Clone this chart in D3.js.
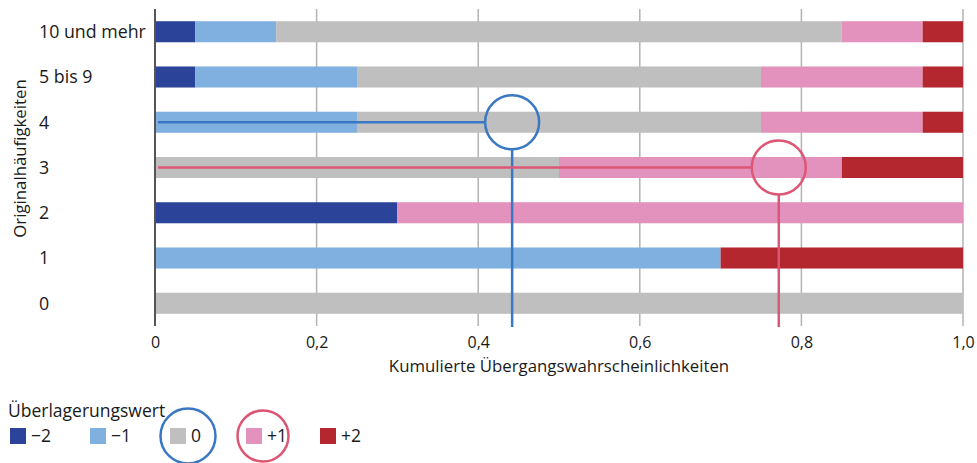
<!DOCTYPE html>
<html>
<head>
<meta charset="utf-8">
<script src="https://cdn.jsdelivr.net/npm/d3@7"></script>
<style>
body{margin:0;background:#fff}
text{font-family:"Open Sans","Noto Sans",sans-serif;fill:#1a1a1a}
</style>
</head>
<body>
<div id="chart"></div>
<script>
// categories (top to bottom) and the overlay values
let categories=["10 und mehr","5 bis 9","4","3","2","1","0"]
let overlays=["−2","−1","0","+1","+2"]
// transition probabilities per overlay value, one array per category
let pMinus2=[0.05,0.05,0,0,0.30,0,0]
let pMinus1=[0.10,0.20,0.25,0,0,0.70,0]
let pZero=[0.70,0.50,0.50,0.50,0,0,1.0]
let pPlus1=[0.10,0.20,0.20,0.35,0.70,0,0]
let pPlus2=[0.05,0.05,0.05,0.15,0,0.30,0]
let xTicks=[0,0.2,0.4,0.6,0.8,1.0]
// two example draws of a uniform number
let drawCats=["4","3"]
let drawValues=[0.442,0.772]

let colors=["#2b4499","#80b0df","#bfbfbf","#e392be","#b4272f"]
let drawColors=["#3a78c3","#dc5675"]

let svgWidth=977
let svgHeight=463
let margin={top:9,right:14,bottom:137,left:155}
let chartwidth=svgWidth-margin.left-margin.right
let chartheight=svgHeight-margin.top-margin.bottom

let svg=d3.select("#chart")
.append("svg")
.attr("width",svgWidth)
.attr("height",svgHeight)
let chartGroup=svg.append("g")
.attr("transform",`translate(${margin.left},${margin.top})`)

//Build stacked data
let series=[pMinus2,pMinus1,pZero,pPlus1,pPlus2]
let rows=categories.map((c,i)=>{
    let r={cat:c}
    overlays.forEach((o,j)=>r[o]=series[j][i])
    return r
})
let stacked=d3.stack().keys(overlays)(rows)

//Scales
let xLinearScale=d3.scaleLinear()
.domain([0,1])
.range([0,chartwidth])
let yBandScale=d3.scaleBand()
.domain(categories)
.range([0,chartheight])
.paddingInner(0.535)
.paddingOuter(0.27)

//Gridlines
chartGroup.append("g")
.selectAll("line")
.data(xTicks.slice(1))
.enter()
.append("line")
.attr("x1",d=>xLinearScale(d))
.attr("x2",d=>xLinearScale(d))
.attr("y1",0)
.attr("y2",chartheight)
.attr("stroke","#b3b3b3")
.attr("stroke-width",1.5)

//Bars
chartGroup.selectAll("g.layer")
.data(stacked)
.enter()
.append("g")
.attr("class","layer")
.attr("fill",(d,i)=>colors[i])
.selectAll("rect")
.data(d=>d)
.enter()
.append("rect")
.attr("x",d=>xLinearScale(d[0]))
.attr("y",d=>yBandScale(d.data.cat))
.attr("width",d=>xLinearScale(d[1])-xLinearScale(d[0]))
.attr("height",yBandScale.bandwidth())

//Left axis line
chartGroup.append("line")
.attr("x1",0).attr("x2",0)
.attr("y1",0).attr("y2",chartheight)
.attr("stroke","#555")
.attr("stroke-width",2)

//X axis tick labels
let bottomAxis=d3.axisBottom(xLinearScale)
.tickValues(xTicks)
.tickSize(0)
.tickPadding(11)
.tickFormat(d=>d3.format(".1f")(d).replace(".",",").replace(/^0,0$/,"0"))
let xg=chartGroup.append("g")
.attr("transform",`translate(0,${chartheight})`)
.call(bottomAxis)
xg.select(".domain").remove()
xg.selectAll("text").style("font-size","16px").attr("fill","#1a1a1a")

//Y labels
chartGroup.append("g")
.selectAll("text")
.data(categories)
.enter()
.append("text")
.attr("x",-116)
.attr("y",d=>yBandScale(d)+yBandScale.bandwidth()/2)
.attr("dy","0.36em")
.style("font-size","17.8px")
.text(d=>d)

//Axis titles
chartGroup.append("text")
.attr("transform","rotate(-90)")
.attr("x",-chartheight/2+9)
.attr("y",-129)
.attr("text-anchor","middle")
.style("font-size","16.8px")
.text("Originalhäufigkeiten")
chartGroup.append("text")
.attr("x",chartwidth/2)
.attr("y",chartheight+46)
.attr("text-anchor","middle")
.style("font-size","16.8px")
.text("Kumulierte Übergangswahrscheinlichkeiten")

//Draw annotations
let rCircle=27
drawValues.forEach((v,i)=>{
    let cx=xLinearScale(v)
    let cy=yBandScale(drawCats[i])+yBandScale.bandwidth()/2
    let g=chartGroup.append("g")
    .attr("stroke",drawColors[i])
    .attr("stroke-width",2.5)
    .attr("fill","none")
    g.append("line")
    .attr("x1",3).attr("x2",cx-rCircle)
    .attr("y1",cy).attr("y2",cy)
    g.append("circle")
    .attr("cx",cx).attr("cy",cy).attr("r",rCircle)
    g.append("line")
    .attr("x1",cx).attr("x2",cx)
    .attr("y1",cy+rCircle).attr("y2",chartheight+1)
})

//Legend
let legend=svg.append("g")
legend.append("text")
.attr("x",8)
.attr("y",417)
.style("font-size","17.5px")
.text("Überlagerungswert")
let legendX=[10,90,170,246,320]
let item=legend.selectAll("g.item")
.data(overlays)
.enter()
.append("g")
.attr("class","item")
.attr("transform",(d,i)=>`translate(${legendX[i]},428)`)
item.append("rect")
.attr("width",16)
.attr("height",16)
.attr("fill",(d,i)=>colors[i])
item.append("text")
.attr("x",21)
.attr("y",8)
.attr("dy","0.36em")
.style("font-size","17.5px")
.text(d=>d)
//circles around 0 and +1 in legend
legend.selectAll("circle")
.data([2,3])
.enter()
.append("circle")
.attr("cx",(d,i)=>legendX[d]+[18,17][i])
.attr("cy",436)
.attr("r",(d,i)=>[27.5,25.5][i])
.attr("fill","none")
.attr("stroke",(d,i)=>drawColors[i])
.attr("stroke-width",2.5)
</script>
</body>
</html>
